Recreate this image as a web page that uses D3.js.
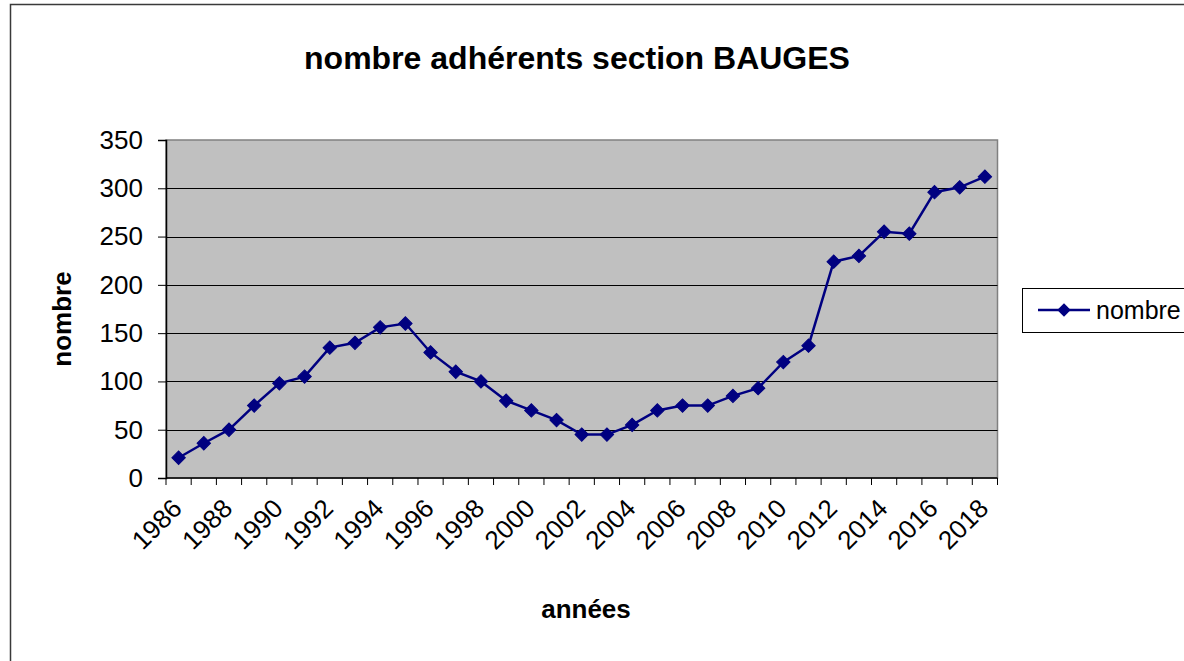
<!DOCTYPE html>
<html>
<head>
<meta charset="utf-8">
<script src="https://cdn.jsdelivr.net/npm/d3@7"></script>
<style>
  body { margin: 0; background: #fff; }
  svg { display: block; font-family: Arial, "Liberation Sans", sans-serif; }
</style>
</head>
<body>
<svg id="chart" width="1184" height="661"></svg>
<script>
// data
var years = d3.range(1986, 2019);
var nombre = [21, 36, 50, 75, 98, 105, 135, 140, 156, 160, 130,
              110, 100, 80, 70, 60, 45, 45, 55, 70, 75, 75, 85,
              93, 120, 137, 224, 230, 255, 253, 296, 301, 312];
var yTicks = [0, 50, 100, 150, 200, 250, 300, 350];
var titleText = 'nombre adhérents section BAUGES';
var seriesName = 'nombre';

var plot = { left: 166, right: 997.5, top: 140, bottom: 478 };
var navy = '#000080';

var svg = d3.select('#chart');

// outer chart frame (runs off the right and bottom)
svg.append('rect')
    .attr('x', 10.5).attr('y', 4.5)
    .attr('width', 1300).attr('height', 800)
    .attr('fill', '#fff')
    .attr('stroke', '#3a3a3a')
    .attr('stroke-width', 1.5);

var x = d3.scaleBand().domain(years).range([plot.left, plot.right]);
var y = d3.scaleLinear().domain([0, 350]).range([plot.bottom, plot.top]);

// plot background
svg.append('rect')
    .attr('x', plot.left).attr('y', plot.top)
    .attr('width', plot.right - plot.left).attr('height', plot.bottom - plot.top)
    .attr('fill', '#c0c0c0')
    .attr('stroke', '#808080')
    .attr('stroke-width', 1.5);

// horizontal grid lines
svg.append('g').selectAll('line')
    .data(yTicks.slice(1, -1))
    .enter().append('line')
    .attr('x1', plot.left).attr('x2', plot.right)
    .attr('y1', function (d) { return Math.round(y(d)) + 0.5; })
    .attr('y2', function (d) { return Math.round(y(d)) + 0.5; })
    .attr('stroke', '#000')
    .attr('stroke-width', 1);

// y axis
var yAxis = svg.append('g')
    .attr('transform', 'translate(' + plot.left + ',0)')
    .call(d3.axisLeft(y).tickValues(yTicks).tickSize(8).tickPadding(15));
yAxis.select('.domain').attr('stroke', '#000').attr('stroke-width', 1.5);
yAxis.selectAll('.tick line').attr('stroke', '#000');
yAxis.selectAll('.tick text')
    .attr('font-size', 26)
    .attr('font-family', 'Arial, "Liberation Sans", sans-serif')
    .attr('fill', '#000');

// x axis: ticks on every band boundary, labels every second year
var xAxis = svg.append('g')
    .attr('transform', 'translate(0,' + plot.bottom + ')');
xAxis.append('line')
    .attr('x1', plot.left).attr('x2', plot.right)
    .attr('y1', 0).attr('y2', 0)
    .attr('stroke', '#000').attr('stroke-width', 1.5);
xAxis.selectAll('line.tick')
    .data(years.concat([null]))
    .enter().append('line')
    .attr('class', 'tick')
    .attr('x1', function (d, i) { return plot.left + i * x.bandwidth(); })
    .attr('x2', function (d, i) { return plot.left + i * x.bandwidth(); })
    .attr('y1', 0).attr('y2', 7)
    .attr('stroke', '#000');
xAxis.selectAll('text')
    .data(years.filter(function (d) { return d % 2 === 0; }))
    .enter().append('text')
    .attr('transform', function (d) {
        var cx = x(d) + x.bandwidth() / 2;
        return 'translate(' + (cx + 5) + ',32) rotate(-45)';
    })
    .attr('text-anchor', 'end')
    .attr('font-size', 26)
    .attr('fill', '#000')
    .text(function (d) { return d; });

// the series line and diamond markers
var line = d3.line()
    .x(function (d, i) { return x(years[i]) + x.bandwidth() / 2; })
    .y(function (d) { return y(d); });

svg.append('path')
    .datum(nombre)
    .attr('d', line)
    .attr('fill', 'none')
    .attr('stroke', navy)
    .attr('stroke-width', 2.5);

var diamond = d3.symbol().type(d3.symbolSquare).size(90);
svg.append('g').selectAll('path')
    .data(nombre)
    .enter().append('path')
    .attr('d', diamond)
    .attr('transform', function (d, i) {
        return 'translate(' + (x(years[i]) + x.bandwidth() / 2) + ',' + y(d) + ') rotate(45)';
    })
    .attr('fill', navy)
    .attr('stroke', navy)
    .attr('stroke-width', 1);

// titles
svg.append('text')
    .attr('x', 577).attr('y', 69)
    .attr('text-anchor', 'middle')
    .attr('font-size', 32).attr('font-weight', 'bold')
    .text(titleText);

svg.append('text')
    .attr('transform', 'translate(71,319) rotate(-90)')
    .attr('text-anchor', 'middle')
    .attr('font-size', 26).attr('font-weight', 'bold')
    .text('nombre');

svg.append('text')
    .attr('x', 586).attr('y', 618)
    .attr('text-anchor', 'middle')
    .attr('font-size', 26).attr('font-weight', 'bold')
    .text('années');

// legend
var legend = svg.append('g').attr('transform', 'translate(1022,288)');
legend.append('rect')
    .attr('x', 0.5).attr('y', 0.5)
    .attr('width', 200).attr('height', 44)
    .attr('fill', '#fff')
    .attr('stroke', '#000')
    .attr('stroke-width', 1);
legend.append('line')
    .attr('x1', 16).attr('x2', 68)
    .attr('y1', 22).attr('y2', 22)
    .attr('stroke', navy).attr('stroke-width', 2.5);
legend.append('path')
    .attr('d', diamond)
    .attr('transform', 'translate(42,22) rotate(45)')
    .attr('fill', navy);
legend.append('text')
    .attr('x', 74).attr('y', 31)
    .attr('font-size', 25)
    .text(seriesName);
</script>
</body>
</html>
